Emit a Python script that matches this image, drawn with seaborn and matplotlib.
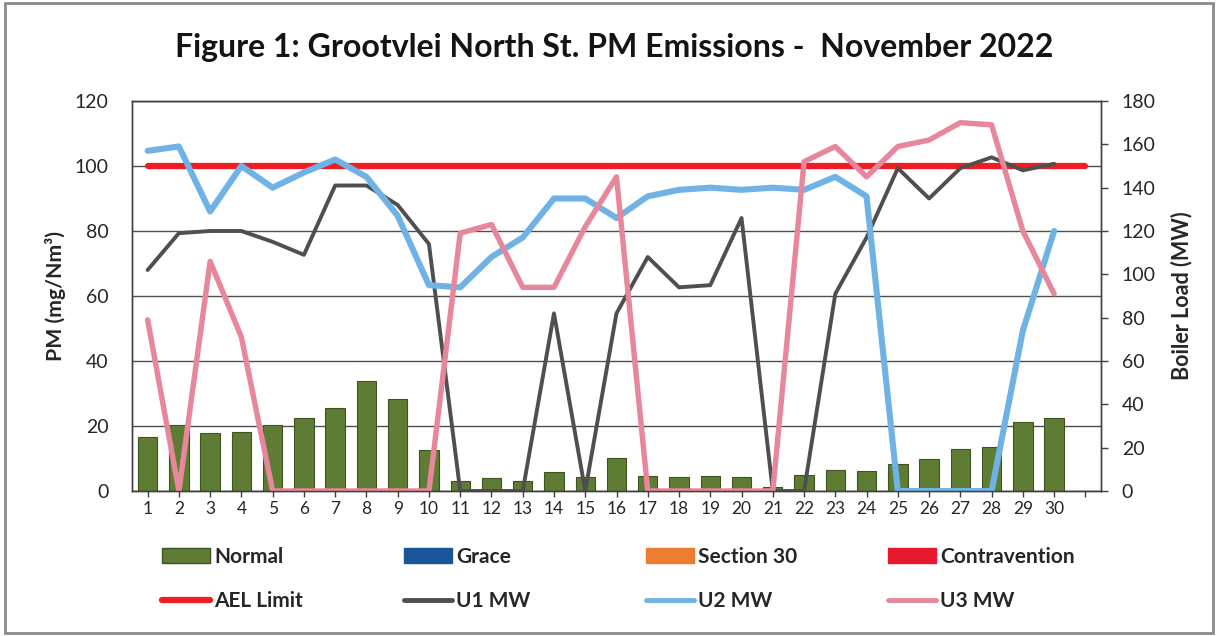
import pandas as pd
import seaborn as sns
import matplotlib.pyplot as plt
from matplotlib.patches import Patch, Rectangle
from matplotlib.lines import Line2D

# values
days = list(range(1, 31))
pm_normal = [16.7, 20.2, 17.7, 18.3, 20.3, 22.4, 25.5, 33.8, 28.2, 12.5,
             3.1, 3.9, 3.1, 6.0, 4.4, 10.1, 4.6, 4.3, 4.6, 4.3,
             1.3, 4.8, 6.5, 6.2, 8.4, 10.0, 12.8, 13.5, 21.2, 22.6]
u1_mw = [102, 119, 120, 120, 115, 109, 141, 141, 132, 114,
         0, 0, 0, 82, 0, 82, 108, 94, 95, 126,
         0, 0, 91, 117, 149, 135, 149, 154, 148, 151]
u2_mw = [157, 159, 129, 150, 140, 147, 153, 145, 127, 95,
         94, 108, 117, 135, 135, 126, 136, 139, 140, 139,
         140, 139, 145, 136, 0, 0, 0, 0, 74, 120]
u3_mw = [79, 0, 106, 71, 0, 0, 0, 0, 0, 0,
         119, 123, 94, 94, 122, 145, 0, 0, 0, 0,
         0, 152, 159, 145, 159, 162, 170, 169, 120, 91]
ael_days = list(range(1, 32))
ael_limit = [100] * 31
day_labels = [str(d) for d in days] + ['']

units = pd.DataFrame({'day': days, 'U1 MW': u1_mw, 'U2 MW': u2_mw, 'U3 MW': u3_mw})

sns.set_theme(style='white')
plt.rcParams['font.family'] = ['Lato', 'DejaVu Sans']

fig = plt.figure(figsize=(12.16, 6.36), dpi=100)
ax = fig.add_axes([132/1216, 1-491/636, 969/1216, 390/636])
ax2 = ax.twinx()

#bars on the PM axis
sns.barplot(x=days, y=pm_normal, native_scale=True, width=0.62, color='#5e7c33',
            saturation=1, edgecolor='#3d5420', linewidth=0.8, ax=ax, zorder=2)
sns.lineplot(x=ael_days, y=ael_limit, color='#f01c24', linewidth=4.5, ax=ax,
             zorder=3, legend=False)

#boiler load lines on the right axis
line_styles = {'U1 MW': ('#4f4f4f', 2.8), 'U2 MW': ('#6fb3e6', 4.4), 'U3 MW': ('#e8879c', 3.9)}
for unit in ['U1 MW', 'U2 MW', 'U3 MW']:
    col, lw = line_styles[unit]
    sns.lineplot(data=units, x='day', y=unit, color=col, linewidth=lw, ax=ax2, legend=False)

ax.set_xlim(0.5, 31.5)
ax.set_ylim(0, 120)
ax2.set_ylim(0, 180)
ax.set_yticks(range(0, 121, 20))
ax2.set_yticks(range(0, 181, 20))
ax.set_xticks(ael_days)
ax.set_xticklabels(day_labels)
ax.set_xlabel('')
ax2.set_xlabel('')

ax.yaxis.grid(True, color='#4d4d4d', linewidth=1)
ax.set_axisbelow(True)
ax.tick_params(axis='x', bottom=True, length=4, width=1, color='#404040', pad=3, labelsize=12.5)
ax.tick_params(axis='y', left=False, length=0, pad=17, labelsize=14)
ax2.tick_params(axis='y', right=True, length=5, width=1, color='#404040', direction='out', pad=10, labelsize=14)
for a in (ax, ax2):
    for s in a.spines.values():
        s.set_color('#404040')
        s.set_linewidth(1)

ax.set_ylabel('PM (mg/Nm³)', fontsize=15.3, fontweight='bold')
ax.yaxis.set_label_coords(-0.068, 0.5)
ax2.set_ylabel('Boiler Load (MW)', fontsize=15.5, fontweight='bold')
ax2.yaxis.set_label_coords(1.072, 0.5)

fig.text(0.505, 1-48/636, 'Figure 1: Grootvlei North St. PM Emissions -  November 2022',
         ha='center', va='center', fontsize=23, fontweight='bold', color='#141414')

#legend, two rows by four columns
entries = [
    [Patch(facecolor='#5e7c33', edgecolor='#3d5420'), 'Normal',
     Line2D([], [], color='#f01c24', lw=4.5, solid_capstyle='round'), 'AEL Limit'],
    [Patch(facecolor='#1a5599', edgecolor='#1a5599'), 'Grace',
     Line2D([], [], color='#4f4f4f', lw=3.5, solid_capstyle='round'), 'U1 MW'],
    [Patch(facecolor='#ed7d31', edgecolor='#ed7d31'), 'Section 30',
     Line2D([], [], color='#6fb3e6', lw=3.5, solid_capstyle='round'), 'U2 MW'],
    [Patch(facecolor='#e8192c', edgecolor='#e8192c'), 'Contravention',
     Line2D([], [], color='#e8879c', lw=3.5, solid_capstyle='round'), 'U3 MW'],
]
for i, (h1, l1, h2, l2) in enumerate(entries):
    x0 = (162 + 242 * i) / 1216
    fig.legend([h1, h2], [l1, l2], loc='upper left', bbox_to_anchor=(x0, 1-547/636),
               frameon=False, borderpad=0, borderaxespad=0, handlelength=2.3,
               handletextpad=0.2, labelspacing=1.15,
               prop={'size': 15, 'weight': 'bold'})

fig.add_artist(Rectangle((5/1216, 3/636), 1208/1216, 630/636, transform=fig.transFigure,
                         fill=False, edgecolor='#8a8a8a', linewidth=2))

plt.savefig('out.png', dpi=100)
print("done")
